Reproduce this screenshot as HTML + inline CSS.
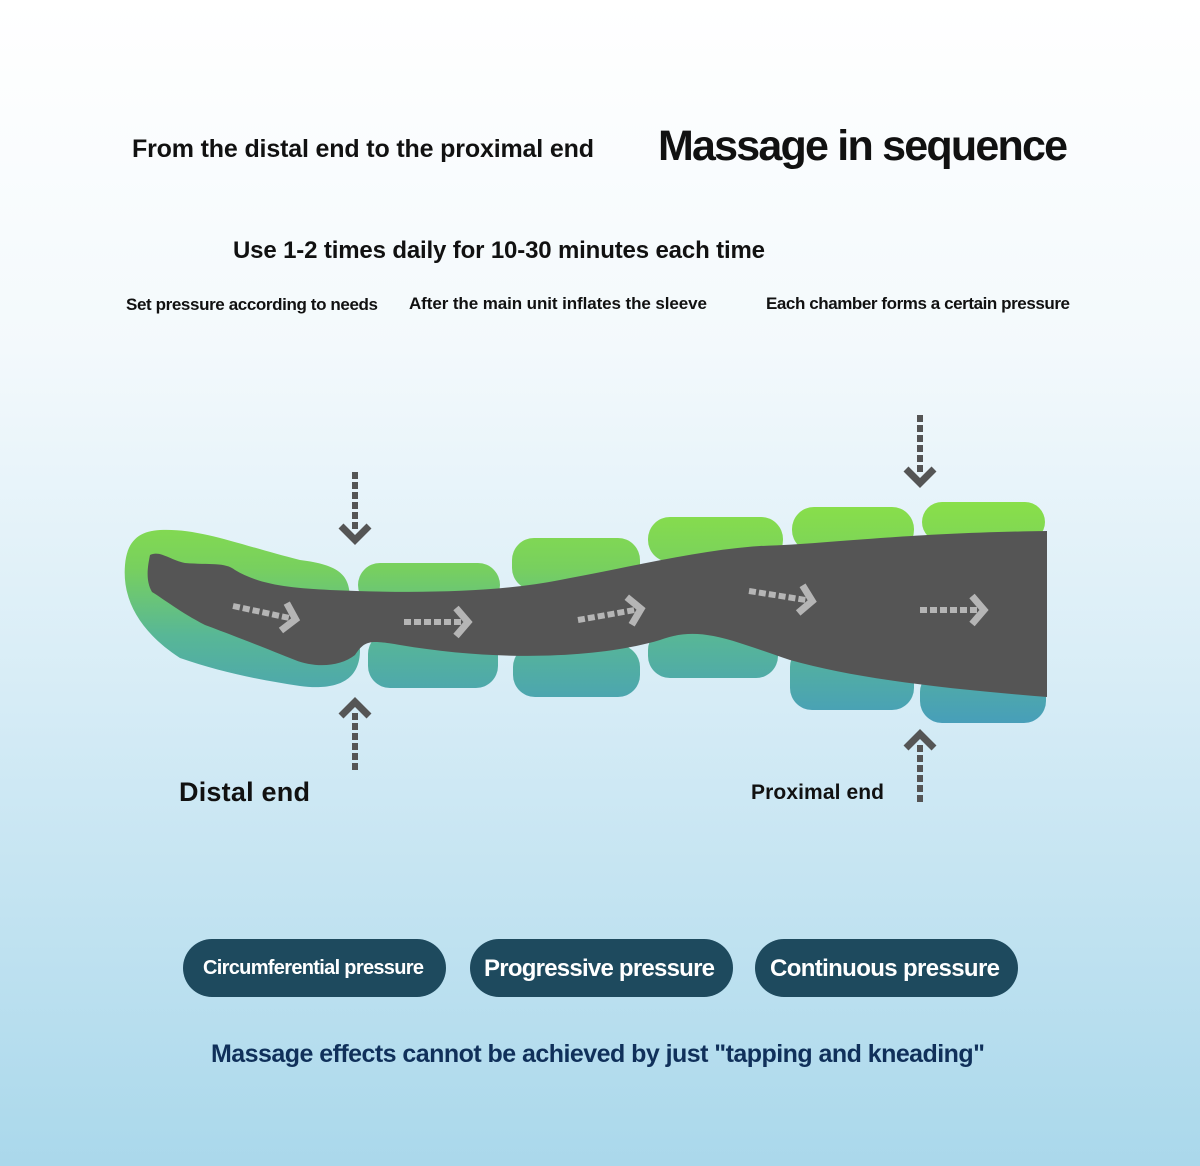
<!DOCTYPE html>
<html><head><meta charset="utf-8"><style>
html,body{margin:0;padding:0;width:1200px;height:1166px;overflow:hidden}
svg{display:block}
text{font-family:"Liberation Sans",sans-serif;font-weight:bold}
</style></head><body>
<svg width="1200" height="1166" viewBox="0 0 1200 1166" xmlns="http://www.w3.org/2000/svg">
<defs>
<linearGradient id="bg" x1="0" y1="0" x2="0" y2="1">
<stop offset="0" stop-color="#ffffff"/><stop offset="0.3" stop-color="#f3f9fc"/><stop offset="0.6" stop-color="#d6ecf6"/><stop offset="1" stop-color="#aad8eb"/>
</linearGradient>
<linearGradient id="pad" gradientUnits="userSpaceOnUse" x1="0" y1="500" x2="0" y2="725">
<stop offset="0" stop-color="#8ae048"/><stop offset="0.3" stop-color="#78d05e"/><stop offset="0.6" stop-color="#58b796"/><stop offset="1" stop-color="#479eba"/>
</linearGradient>
<g id="hd"><path d="M0 -3 h7 v6 h-7z M10 -3 h7 v6 h-7z M20 -3 h7 v6 h-7z M30 -3 h7 v6 h-7z M40 -3 h7 v6 h-7z M50 -3 h7 v6 h-7z" fill="#b5b5b5"/><path d="M52 -14 L64 0 L52 14" fill="none" stroke="#b5b5b5" stroke-width="7"/></g>
<g id="vd"><path d="M-3 0 v7 h6 v-7z M-3 10 v7 h6 v-7z M-3 20 v7 h6 v-7z M-3 30 v7 h6 v-7z M-3 40 v7 h6 v-7z M-3 50 v7 h6 v-7z" fill="#555"/><path d="M-14 54 L0 68 L14 54" fill="none" stroke="#555" stroke-width="7"/></g>
</defs>
<rect width="1200" height="1166" fill="url(#bg)"/>
<text x="132" y="157" font-size="25" fill="#111" textLength="462">From the distal end to the proximal end</text>
<text x="658" y="160" font-size="43" fill="#111" textLength="410">Massage in sequence</text>
<text x="233" y="258" font-size="24" fill="#111" textLength="532">Use 1-2 times daily for 10-30 minutes each time</text>
<text x="126" y="310" font-size="17" fill="#111" textLength="252">Set pressure according to needs</text>
<text x="409" y="309" font-size="17" fill="#111" textLength="298">After the main unit inflates the sleeve</text>
<text x="766" y="309" font-size="17" fill="#111" textLength="304">Each chamber forms a certain pressure</text>

<g fill="url(#pad)">
<path d="M160 530 C200 528 240 545 300 560 C340 565 350 575 350 600 L360 650 C360 685 330 690 300 686 C260 680 220 672 180 658 C140 632 122 600 125 565 C127 540 140 531 160 530Z"/>
<rect x="358" y="563" width="142" height="44" rx="22"/>
<rect x="512" y="538" width="128" height="52" rx="22"/>
<rect x="648" y="517" width="135" height="45" rx="22"/>
<rect x="792" y="507" width="122" height="45" rx="22"/>
<rect x="922" y="502" width="123" height="40" rx="20"/>
<rect x="368" y="632" width="130" height="56" rx="22"/>
<rect x="513" y="645" width="127" height="52" rx="22"/>
<rect x="648" y="628" width="130" height="50" rx="22"/>
<rect x="790" y="645" width="124" height="65" rx="22"/>
<rect x="920" y="670" width="126" height="53" rx="22"/>
</g>
<path fill="#555" d="M150 555 C160 550 170 560 185 563 C210 565 225 562 235 570 C260 585 290 588 330 590 C420 594 500 592 560 580 C640 565 700 550 760 546 C830 544 900 533 1047 531 L1047 697 C960 690 860 680 790 660 C730 640 700 625 660 640 C600 658 500 662 400 645 C370 640 365 640 355 655 C340 667 315 668 295 660 C270 650 240 638 205 625 C180 612 165 600 152 592 C145 580 148 565 150 555Z"/>
<use href="#hd" transform="translate(233,606) rotate(12)"/>
<use href="#hd" transform="translate(404,622)"/>
<use href="#hd" transform="translate(578,620) rotate(-10)"/>
<use href="#hd" transform="translate(749,591) rotate(9)"/>
<use href="#hd" transform="translate(920,610)"/>
<use href="#vd" transform="translate(355,472)"/>
<use href="#vd" transform="translate(355,770) rotate(180)"/>
<use href="#vd" transform="translate(920,415)"/>
<use href="#vd" transform="translate(920,802) rotate(180)"/>

<text x="179" y="801" font-size="27" fill="#111" textLength="131">Distal end</text>
<text x="751" y="799" font-size="21" fill="#111" textLength="133">Proximal end</text>

<g fill="#1e4a5e">
<rect x="183" y="939" width="263" height="58" rx="29"/>
<rect x="470" y="939" width="263" height="58" rx="29"/>
<rect x="755" y="939" width="263" height="58" rx="29"/>
</g>
<text x="203" y="974" font-size="20" fill="#fff" textLength="221">Circumferential pressure</text>
<text x="484" y="976" font-size="24" fill="#fff" textLength="231">Progressive pressure</text>
<text x="770" y="976" font-size="24" fill="#fff" textLength="230">Continuous pressure</text>
<text x="211" y="1062" font-size="25" fill="#10305a" textLength="774">Massage effects cannot be achieved by just "tapping and kneading"</text>
</svg>
</body></html>
